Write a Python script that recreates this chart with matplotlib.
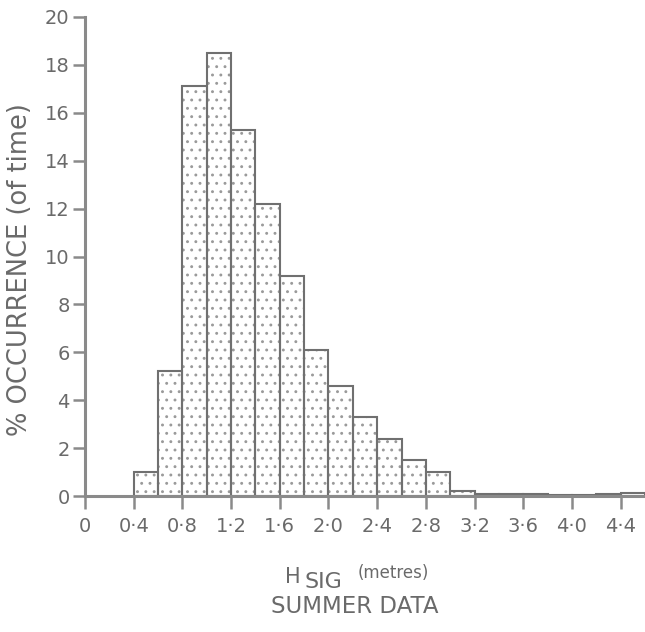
import matplotlib
matplotlib.use('Agg')
import matplotlib.pyplot as plt
import numpy as np

# bin edges (m) and % occurrence per 0.2 m bin
bin_left = [0.4, 0.6, 0.8, 1.0, 1.2, 1.4, 1.6, 1.8, 2.0, 2.2, 2.4, 2.6, 2.8,
            3.0, 3.2, 3.4, 3.6, 3.8, 4.0, 4.2, 4.4]
occurrence = [1.0, 5.2, 17.1, 18.5, 15.3, 12.2, 9.2, 6.1, 4.6, 3.3, 2.4, 1.5, 1.0,
              0.2, 0.1, 0.1, 0.08, 0.06, 0.06, 0.1, 0.12]
bin_width = 0.2

x_ticks = [0, 0.4, 0.8, 1.2, 1.6, 2.0, 2.4, 2.8, 3.2, 3.6, 4.0, 4.4]
x_tick_labels = ['0', '0·4', '0·8', '1·2', '1·6', '2·0', '2·4', '2·8', '3·2', '3·6', '4·0', '4·4']
y_ticks = [0, 2, 4, 6, 8, 10, 12, 14, 16, 18, 20]

gray = '#6a6a6a'
plt.rcParams['font.family'] = ['DejaVu Sans']
plt.rcParams['hatch.color'] = '#9a9a9a'
plt.rcParams['hatch.linewidth'] = 0.9

fig = plt.figure(figsize=(6.45, 6.32), dpi=100)
ax = fig.add_axes([85 / 645, (632 - 496) / 632, (645 - 85) / 645, (496 - 17) / 632])

# fill with dotted hatch, then outline on top
ax.bar(bin_left, occurrence, width=bin_width, align='edge', facecolor='white',
       edgecolor='#9a9a9a', linewidth=0, hatch='..')
ax.bar(bin_left, occurrence, width=bin_width, align='edge', fill=False,
       edgecolor='#707070', linewidth=1.5)

ax.set_xlim(0, 4.6)
ax.set_ylim(0, 20)
ax.set_xticks(x_ticks)
ax.set_xticklabels(x_tick_labels)
ax.set_yticks(y_ticks)
ax.spines['top'].set_visible(False)
ax.spines['right'].set_visible(False)
for s in ['left', 'bottom']:
    ax.spines[s].set_color('#8a8a8a')
    ax.spines[s].set_linewidth(2.2)
ax.tick_params(axis='both', colors='#8a8a8a', labelcolor=gray, width=1.8,
               length=9, labelsize=14, direction='out')
ax.tick_params(axis='x', pad=6)
ax.tick_params(axis='y', pad=2)

fig.text(20 / 645, 1 - 270 / 632, '% OCCURRENCE (of time)', fontsize=18.5, color=gray,
         rotation=90, ha='center', va='center')

fig.text(285 / 645, 1 - 583 / 632, 'H', fontsize=15, color=gray, ha='left', va='baseline')
fig.text(304 / 645, 1 - 588 / 632, 'SIG', fontsize=16, color=gray, ha='left', va='baseline')
fig.text(358 / 645, 1 - 578 / 632, '(metres)', fontsize=12, color=gray, ha='left', va='baseline')
fig.text(271 / 645, 1 - 613 / 632, 'SUMMER DATA', fontsize=16.5, color=gray, ha='left', va='baseline')

fig.savefig('out.png', dpi=100)
